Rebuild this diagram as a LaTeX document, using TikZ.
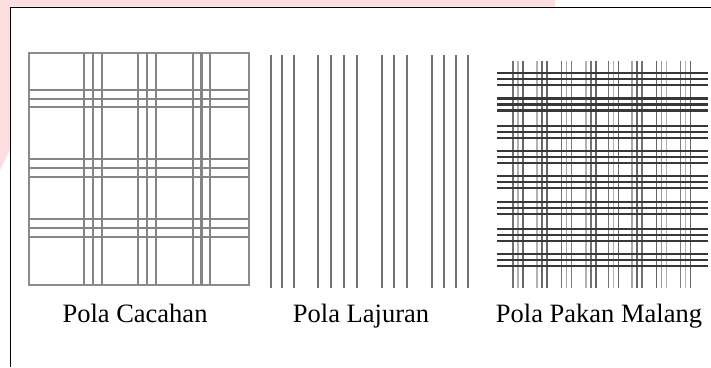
\documentclass[tikz,border=0pt]{standalone}
\usepackage{fontspec}
\setmainfont{Liberation Serif}
\usepackage{tikz}
\definecolor{wmpink}{HTML}{FCDDE0}

\tikzset{
  frameline/.style={line width=1.4pt, black},
  cacahline/.style={line width=2.2pt, black!48},
  lajurline/.style={line width=1.7pt, black!55},
  pakanweft/.style={line width=2.2pt, black!78},
  polalabel/.style={anchor=base, inner sep=0pt, font=\fontsize{26.5}{30}\selectfont}
}

\begin{document}
\begin{tikzpicture}[x=1pt,y=-1pt]
%\draw (0,0) grid (711,367);
\useasboundingbox (0,0) rectangle (711,367);

\fill[wmpink] (0,0) -- (555,0) -- (555,6.5) -- (10,6.5) -- (10,150) -- (0,170) -- cycle;
\draw[frameline] (711,7.3) -- (10.7,7.3) -- (10.7,367);

% Pola Cacahan
\draw[black!45, line width=1.1pt] (29,53) rectangle (249,285);
\foreach \x in {84,93,102,138,147,156,193,201.5,210}
  \draw[cacahline] (\x,53) -- (\x,285);
\foreach \y in {90,98.7,107.3,159,168,177,219,228,237}
  \draw[cacahline] (29,\y) -- (249,\y);
\node[polalabel] (lblCacahan) at (135,322) {Pola Cacahan};

% Pola Lajuran
\foreach \x in {270.7,282.3,294.3,318.3,331,343.7,356.7,382,394,406.7,431.7,444,455.7,468.3}
  \draw[lajurline] (\x,55) -- (\x,288);
\node[polalabel] (lblLajuran) at (361,322) {Pola Lajuran};

% Pola Pakan Malang
\foreach \g/\sa/\sb/\sc in {513/55/30/60,537/30/58/60,561.5/55/35/50,586/30/55/60,
                           608.5/55/30/60,632/35/60/55,656.5/60/40/30,680.5/50/30/60}{
  \draw[line width=1.8pt, black!\sa] (\g,60.5) -- (\g,288);
  \draw[line width=1.8pt, black!\sb] (\g+5,60.5) -- (\g+5,288);
  \draw[line width=1.8pt, black!\sc] (\g+10,60.5) -- (\g+10,288);
}
\foreach \g in {72.7,98.5,125.7,151,175.7,201.7,229,254.3}
  \foreach \d in {0,6,12}
    \draw[pakanweft] (496.7,\g+\d) -- (708,\g+\d);
\node[polalabel] (lblPakan) at (599,322) {Pola Pakan Malang};
\end{tikzpicture}
\end{document}
